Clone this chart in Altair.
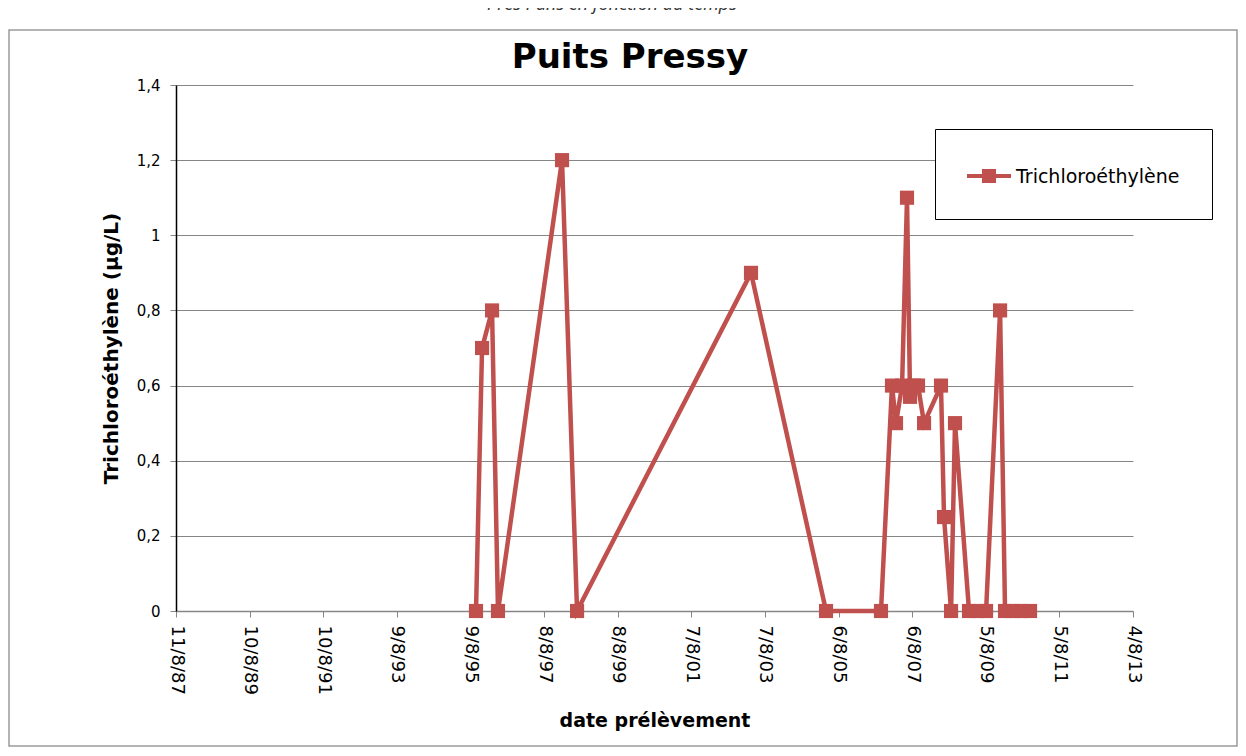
import altair as alt
import pandas as pd

# ---- data ----
series_name = "Trichloroéthylène"
dates = [
    "1995-10-03", "1995-12-02", "1996-03-10", "1996-05-08", "1998-02-02",
    "1998-07-01", "2003-03-22", "2005-04-04", "2006-10-01", "2007-01-18",
    "2007-02-27", "2007-04-28", "2007-06-16", "2007-07-16", "2007-08-25",
    "2007-10-03", "2007-12-02", "2008-05-18", "2008-06-17", "2008-08-26",
    "2008-10-04", "2009-02-20", "2009-05-10", "2009-08-08", "2009-12-25",
    "2010-02-12", "2010-05-02", "2010-07-21", "2010-10-18",
]
values = [
    0, 0.7, 0.8, 0, 1.2,
    0, 0.9, 0, 0, 0.6,
    0.5, 0.6, 1.1, 0.57, 0.6,
    0.6, 0.5, 0.6, 0.25, 0,
    0.5, 0, 0, 0, 0.8,
    0, 0, 0, 0,
]
x_tick_dates = [
    "1987-08-11", "1989-08-10", "1991-08-10", "1993-08-09", "1995-08-09",
    "1997-08-08", "1999-08-08", "2001-08-07", "2003-08-07", "2005-08-06",
    "2007-08-06", "2009-08-05", "2011-08-05", "2013-08-04",
]
y_ticks = [0, 0.2, 0.4, 0.6, 0.8, 1.0, 1.2, 1.4]
chart_title = "Puits Pressy"
cut_title = "Prés Pans en fonction du temps"

RED = "#C0504D"
GRID = "#868686"


def to_dt(s):
    y, m, d = (int(p) for p in s.split("-"))
    return alt.DateTime(year=y, month=m, date=d)


df = pd.DataFrame({"date": pd.to_datetime(dates), "value": values, "serie": series_name})

legend_symbol = "M-1,-0.41H1V-0.23H-1Z M-0.32,-0.64H0.32V0H-0.32Z"

x_enc = alt.X(
    "date:T",
    scale=alt.Scale(domain=[to_dt(x_tick_dates[0]), to_dt(x_tick_dates[-1])], nice=False),
    axis=alt.Axis(
        values=[to_dt(s) for s in x_tick_dates],
        format="%-d/%-m/%y",
        labelAngle=90,
        labelFont="DejaVu Sans",
        labelFontSize=18,
        labelColor="black",
        labelPadding=8,
        labelOverlap=False,
        labelFlush=False,
        tickColor=GRID,
        tickSize=6,
        domainColor=GRID,
        domainWidth=1.5,
        grid=False,
        title="date prélèvement",
        titleFont="DejaVu Sans",
        titleFontSize=19,
        titleFontWeight="bold",
        titleColor="black",
        titlePadding=17,
    ),
)
y_enc = alt.Y(
    "value:Q",
    scale=alt.Scale(domain=[0, 1.4], nice=False, zero=True),
    axis=alt.Axis(
        values=y_ticks,
        labelExpr="replace(format(datum.value, '.1~f'), '.', ',')",
        labelFont="DejaVu Sans",
        labelFontSize=15,
        labelColor="black",
        labelPadding=10,
        tickColor=GRID,
        tickSize=6,
        domainColor="black",
        domainWidth=1.5,
        grid=True,
        gridColor=GRID,
        gridWidth=1,
        title="Trichloroéthylène (µg/L)",
        titleFont="DejaVu Sans",
        titleFontSize=20,
        titleFontWeight="bold",
        titleColor="black",
        titlePadding=15,
    ),
)

line = alt.Chart(df).mark_line(strokeWidth=4.5).encode(
    x=x_enc,
    y=y_enc,
    color=alt.Color(
        "serie:N",
        scale=alt.Scale(range=[RED]),
        legend=alt.Legend(
            title=None,
            orient="none",
            legendX=759,
            legendY=44,
            padding=32,
            strokeColor="black",
            fillColor="white",
            symbolType=legend_symbol,
            symbolSize=1936,
            symbolFillColor=RED,
            symbolStrokeWidth=0,
            labelFont="DejaVu Sans",
            labelFontSize=19,
            labelBaseline="alphabetic",
            labelColor="black",
            labelOffset=5,
            labelLimit=400,
        ),
    ),
)

points = alt.Chart(df).mark_point(shape="square", size=200, filled=True, opacity=1).encode(
    x=alt.X("date:T"),
    y=alt.Y("value:Q"),
    color=alt.Color("serie:N", legend=None),
)

frame_df = pd.DataFrame({"k": [0]})
frame = alt.Chart(frame_df).mark_rect(fill=None, stroke="#9a9a9a", strokeWidth=1.5).encode(
    x=alt.value(-167), x2=alt.value(1061), y=alt.value(-55), y2=alt.value(661)
)
top_text = alt.Chart(frame_df).mark_text(
    text=cut_title,
    font="Open Sans",
    fontStyle="italic",
    fontSize=18,
    color="#333333",
    align="center",
    baseline="alphabetic",
).encode(x=alt.value(436), y=alt.value(-75))
title_text = alt.Chart(frame_df).mark_text(
    text=chart_title,
    font="DejaVu Sans",
    fontWeight="bold",
    fontSize=34,
    color="black",
    align="center",
    baseline="alphabetic",
).encode(x=alt.value(454), y=alt.value(-17))

chart = (
    alt.layer(frame, top_text, title_text, line, points)
    .properties(
        width=957,
        height=526,
        padding={"left": 168, "top": 77, "right": 105, "bottom": 137},
        autosize=alt.AutoSizeParams(type="none"),
        background="white",
    )
    .configure_view(stroke=None)
)

chart.save("out.html", embed_options={"renderer": "svg", "actions": False})
